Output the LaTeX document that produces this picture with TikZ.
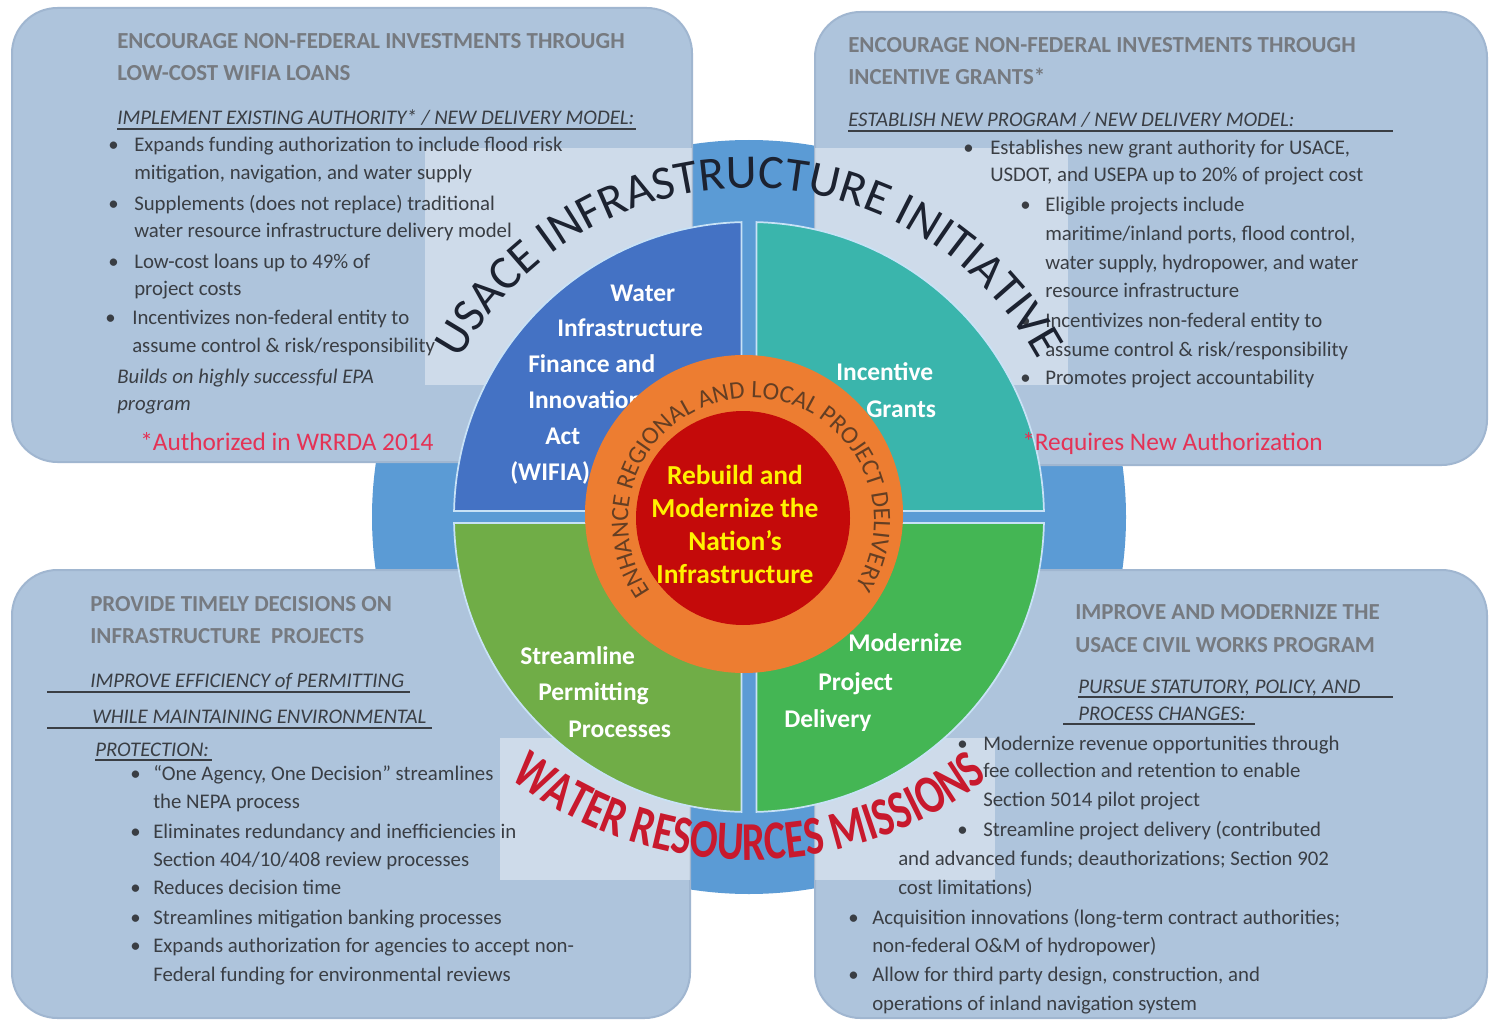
\documentclass[tikz,border=0pt]{standalone}
\usepackage{fontspec}
\setmainfont{Carlito}
\newfontfamily\arcredfont[FakeStretch=0.75]{Carlito}
\usetikzlibrary{decorations.text}

\definecolor{panelfill}{RGB}{174,196,220}
\definecolor{paneledge}{RGB}{160,182,208}
\definecolor{ringblue}{RGB}{91,155,213}
\definecolor{qblue}{RGB}{68,114,196}
\definecolor{qteal}{RGB}{58,181,172}
\definecolor{qlgreen}{RGB}{112,173,71}
\definecolor{qgreen}{RGB}{68,182,84}
\definecolor{ringorange}{RGB}{237,125,49}
\definecolor{corered}{RGB}{196,10,10}
\definecolor{bodytext}{RGB}{58,62,68}
\definecolor{headtext}{RGB}{118,122,128}
\definecolor{footred}{RGB}{228,50,85}
\definecolor{arcred}{RGB}{200,25,45}
\definecolor{arcdark}{RGB}{28,34,48}
\definecolor{ringtext}{RGB}{100,62,35}
\definecolor{sepline}{RGB}{200,226,246}

\begin{document}
\begin{tikzpicture}[x=0.75pt,y=0.75pt,
  panel/.style={fill=panelfill, draw=paneledge, line width=1.5pt, rounded corners=34pt},
  haze/.style={fill=white, opacity=0.4},
  head/.style={anchor=base west, inner sep=0pt, text=headtext, font=\fontsize{17.2}{20}\selectfont\bfseries},
  body/.style={anchor=base west, inner sep=0pt, text=bodytext, font=\fontsize{15.6}{19}\selectfont},
  subhead/.style={anchor=base west, inner sep=0pt, text=bodytext, font=\fontsize{15.6}{19}\selectfont\itshape},
  bul/.style={anchor=base west, inner sep=0pt, text=bodytext, font=\fontsize{15.6}{19}\selectfont},
  foot/.style={anchor=base west, inner sep=0pt, text=footred, font=\fontsize{19}{22}\selectfont},
  quad/.style={anchor=base west, inner sep=0pt, text=white, font=\fontsize{19.1}{23}\selectfont\bfseries},
  core/.style={anchor=base, inner sep=0pt, text=yellow, font=\fontsize{20.6}{24}\selectfont\bfseries},
  uline/.style={draw=bodytext, line width=0.9pt},
  qsep/.style={draw=sepline, line width=1.3pt}]

\useasboundingbox (0,0) rectangle (1489,-1020);
\fill[white] (0,0) rectangle (1489,-1020);

\coordinate (ctr) at (749,-517);

% outer blue disc, seen between the panels
\fill[ringblue] (ctr) circle (377);

% four text panels
\path[panel] (12,-8) rectangle (692,-462);
\path[panel] (815,-12) rectangle (1487,-465);
\path[panel] (12,-570) rectangle (690,-1018);
\path[panel] (815,-570) rectangle (1487,-1018);

% light bands behind the curved titles
\fill[haze] (425,-148) rectangle (692,-385);
\fill[haze] (815,-148) rectangle (1068,-385);
\fill[haze] (500,-738) rectangle (690,-880);
\fill[haze] (815,-738) rectangle (995,-880);

% ---- four quadrants
\path[fill=qblue, qsep] (741.5,-511) -- ([shift={(ctr)}]91.46:295) arc[start angle=91.46, end angle=178.83, radius=295] -- cycle;
\path[fill=qteal, qsep] (756.5,-511) -- ([shift={(ctr)}]1.17:295) arc[start angle=1.17, end angle=88.54, radius=295] -- cycle;
\path[fill=qlgreen, qsep] (741.5,-523) -- ([shift={(ctr)}]181.17:295) arc[start angle=181.17, end angle=268.54, radius=295] -- cycle;
\path[fill=qgreen, qsep] (756.5,-523) -- ([shift={(ctr)}]271.46:295) arc[start angle=271.46, end angle=358.83, radius=295] -- cycle;

% ---- top-left panel
\node[head] (tlh1) at (117,-49) {ENCOURAGE NON-FEDERAL INVESTMENTS THROUGH};
\node[head] (tlh2) at (117,-81) {LOW-COST WIFIA LOANS};
\node[subhead] (tls) at (117,-125) {IMPLEMENT EXISTING AUTHORITY* / NEW DELIVERY MODEL:};
\draw[uline] (117,-129) -- (636,-129);
\node[bul] (tlk1) at (108,-152) {\textbullet};
\node[body] (tlb1) at (134,-152) {Expands funding authorization to include flood risk};
\node[body] (tlb2) at (134,-180) {mitigation, navigation, and water supply};
\node[bul] (tlk2) at (108,-210) {\textbullet};
\node[body] (tlb3) at (134,-210) {Supplements (does not replace) traditional};
\node[body] (tlb4) at (134,-238) {water resource infrastructure delivery model};
\node[bul] (tlk3) at (108,-268) {\textbullet};
\node[body] (tlb5) at (134,-268) {Low-cost loans up to 49\% of};
\node[body] (tlb6) at (134,-296) {project costs};
\node[bul] (tlk4) at (105,-324) {\textbullet};
\node[body] (tlb7) at (132,-324) {Incentivizes non-federal entity to};
\node[body] (tlb8) at (132,-352) {assume control \& risk/responsibility};
\node[subhead] (tlb9) at (117,-383) {Builds on highly successful EPA};
\node[subhead] (tlb10) at (117,-410) {program};
\node[foot] (tlf) at (140,-450) {*Authorized in WRRDA 2014};

% ---- top-right panel
\node[head] (trh1) at (848,-53) {ENCOURAGE NON-FEDERAL INVESTMENTS THROUGH};
\node[head] (trh2) at (848,-85) {INCENTIVE GRANTS*};
\node[subhead] (trs) at (848,-127) {ESTABLISH NEW PROGRAM / NEW DELIVERY MODEL:};
\draw[uline] (848,-131) -- (1393,-131);
\node[bul] (trk1) at (963,-155) {\textbullet};
\node[body] (trb1) at (990,-155) {Establishes new grant authority for USACE,};
\node[body] (trb2) at (990,-182) {USDOT, and USEPA up to 20\% of project cost};
\node[bul] (trk2) at (1020,-212) {\textbullet};
\node[body] (trb3) at (1045,-212) {Eligible projects include};
\node[body] (trb4) at (1045,-240) {maritime/inland ports, flood control,};
\node[body] (trb5) at (1045,-269) {water supply, hydropower, and water};
\node[body] (trb6) at (1045,-297) {resource infrastructure};
\node[bul] (trk3) at (1020,-327) {\textbullet};
\node[body] (trb7) at (1045,-327) {Incentivizes non-federal entity to};
\node[body] (trb8) at (1045,-356) {assume control \& risk/responsibility};
\node[bul] (trk4) at (1020,-384) {\textbullet};
\node[body] (trb9) at (1045,-384) {Promotes project accountability};
\node[foot] (trf) at (1022,-450) {*Requires New Authorization};

% ---- bottom-left panel
\node[head] (blh1) at (90,-611) {PROVIDE TIMELY DECISIONS ON};
\node[head] (blh2) at (90,-643) {INFRASTRUCTURE\ \ PROJECTS};
\node[subhead] (bls1) at (90,-687) {IMPROVE EFFICIENCY of PERMITTING};
\node[subhead] (bls2) at (92,-723) {WHILE MAINTAINING ENVIRONMENTAL};
\node[subhead] (bls3) at (95,-756) {PROTECTION:};
\draw[uline] (47,-692) -- (410,-692);
\draw[uline] (47,-728) -- (432,-728);
\draw[uline] (95,-760) -- (212,-760);
\node[bul] (blk1) at (130,-780) {\textbullet};
\node[body] (blb1) at (153,-780) {“One Agency, One Decision” streamlines};
\node[body] (blb2) at (153,-808) {the NEPA process};
\node[bul] (blk2) at (130,-838) {\textbullet};
\node[body] (blb3) at (153,-838) {Eliminates redundancy and inefficiencies in};
\node[body] (blb4) at (153,-866) {Section 404/10/408 review processes};
\node[bul] (blk3) at (130,-894) {\textbullet};
\node[body] (blb5) at (153,-894) {Reduces decision time};
\node[bul] (blk4) at (130,-924) {\textbullet};
\node[body] (blb6) at (153,-924) {Streamlines mitigation banking processes};
\node[bul] (blk5) at (130,-952) {\textbullet};
\node[body] (blb7) at (153,-952) {Expands authorization for agencies to accept non-};
\node[body] (blb8) at (153,-981) {Federal funding for environmental reviews};

% ---- bottom-right panel
\node[head] (brh1) at (1075,-619) {IMPROVE AND MODERNIZE THE};
\node[head] (brh2) at (1075,-652) {USACE CIVIL WORKS PROGRAM};
\node[subhead] (brs1) at (1078,-693) {PURSUE STATUTORY, POLICY, AND};
\node[subhead] (brs2) at (1078,-720) {PROCESS CHANGES:};
\draw[uline] (1078,-697) -- (1393,-697);
\draw[uline] (1063,-724) -- (1255,-724);
\node[bul] (brk1) at (957,-750) {\textbullet};
\node[body] (brb1) at (983,-750) {Modernize revenue opportunities through};
\node[body] (brb2) at (983,-777) {fee collection and retention to enable};
\node[body] (brb3) at (983,-806) {Section 5014 pilot project};
\node[bul] (brk2) at (957,-836) {\textbullet};
\node[body] (brb4) at (983,-836) {Streamline project delivery (contributed};
\node[body] (brb5) at (898,-865) {and advanced funds; deauthorizations; Section 902};
\node[body] (brb6) at (898,-894) {cost limitations)};
\node[bul] (brk3) at (848,-924) {\textbullet};
\node[body] (brb7) at (872,-924) {Acquisition innovations (long-term contract authorities;};
\node[body] (brb8) at (872,-952) {non-federal O\&M of hydropower)};
\node[bul] (brk4) at (848,-981) {\textbullet};
\node[body] (brb9) at (872,-981) {Allow for third party design, construction, and};
\node[body] (brb10) at (872,-1010) {operations of inland navigation system};

% ---- quadrant labels
\node[quad] (q1a) at (610,-301) {Water};
\node[quad] (q1b) at (557,-336) {Infrastructure};
\node[quad] (q1c) at (528,-372) {Finance and};
\node[quad] (q1d) at (528,-408) {Innovation};
\node[quad] (q1e) at (545,-444) {Act};
\node[quad] (q1f) at (510,-480) {(WIFIA)};
\node[quad] (q2a) at (836,-380) {Incentive};
\node[quad] (q2b) at (866,-417) {Grants};
\node[quad] (q3a) at (520,-664) {Streamline};
\node[quad] (q3b) at (538,-700) {Permitting};
\node[quad] (q3c) at (568,-737) {Processes};
\node[quad] (q4a) at (848,-651) {Modernize};
\node[quad] (q4b) at (818,-690) {Project};
\node[quad] (q4c) at (784,-727) {Delivery};

% ---- central rings
\fill[ringorange] (744,-514) circle (159);
\fill[corered] (743,-518) circle (107);

\path[decorate, decoration={text along path, text align=center, text color=ringtext,
  text={|\fontsize{18.75}{20}\selectfont|ENHANCE REGIONAL AND LOCAL PROJECT DELIVERY}}]
  ([shift={(751,-521)}]235:123) arc[start angle=235, end angle=-52, radius=123];

\node[core] (c1) at (735,-484) {Rebuild and};
\node[core] (c2) at (735,-517) {Modernize the};
\node[core] (c3) at (735,-550) {Nation’s};
\node[core] (c4) at (735,-583) {Infrastructure};

% ---- curved titles
\path[decorate, decoration={text along path, text align=center, text color=arcdark,
  text={|\fontsize{36}{40}\selectfont|USACE INFRASTRUCTURE INITIATIVE}}]
  ([shift={(ctr)}]165:329) arc[start angle=165, end angle=15, radius=329];

\path[decorate, decoration={text along path, text align=center, text color=arcred,
  text={|\arcredfont\bfseries\fontsize{41}{46}\selectfont|WATER RESOURCES MISSIONS}}]
  ([shift={(749,-470)}]215:390) arc[start angle=215, end angle=325, radius=390];

\end{tikzpicture}
\end{document}
